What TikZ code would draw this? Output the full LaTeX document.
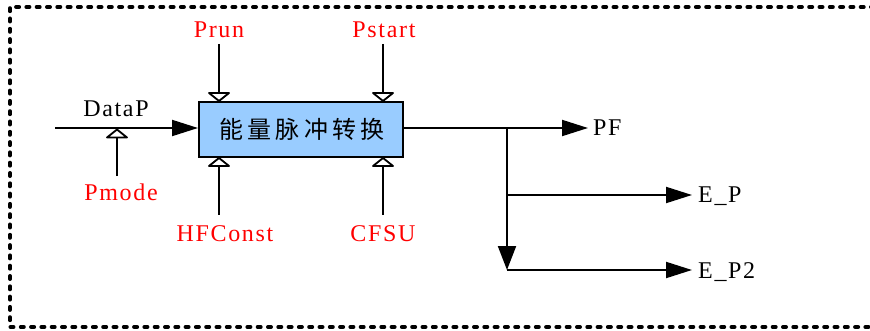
\documentclass[tikz,border=0pt]{standalone}
\usepackage{fontspec}
\setmainfont[LetterSpace=7]{Liberation Serif}
\newfontfamily\cjk[LetterSpace=17]{Noto Sans CJK SC}
\usetikzlibrary{arrows.meta}

\definecolor{boxblue}{RGB}{153,204,255}

% hollow flat arrowhead: tip at #1, base 8pt away in direction #2 (+1 below, -1 above)
\newcommand\hollowtip[2]{%
  \draw[line width=1.8pt,fill=white,line join=round]
    (#1) -- ++(-10,#2*8) -- ++(20,0) -- cycle;}

\begin{document}
\begin{tikzpicture}[x=1pt,y=-1pt,
  wire/.style={line width=2pt},
  solidtip/.style={wire,-{Triangle[length=26pt,width=16pt]}},
  sig/.style={font=\fontsize{24}{24}\selectfont,inner sep=0pt,anchor=base},
  ctl/.style={sig,text=red},
  outsig/.style={sig,anchor=base west},
  block/.style={draw,line width=2pt,fill=boxblue,minimum width=204pt,
    minimum height=55pt,inner sep=0pt,font=\cjk\fontsize{24}{24}\selectfont},
  frame/.style={line width=4pt,line cap=round,dash pattern=on 3pt off 7.3pt}]

\useasboundingbox (0,0) rectangle (870,331);

% dashed enclosure (right side runs past the page edge)
\draw[frame] (874,7) -- (10,7) -- (10,327) -- (874,327);

% central block
\node[block] (conv) at (301,129.5) {\hspace*{2pt}能量脉冲转换};

% signal labels
\node[sig] (datap) at (116,117) {DataP};
\node[ctl] (pmode) at (121,201) {Pmode};
\node[ctl] (prun) at (219,38) {Prun};
\node[ctl] (pstart) at (384,38) {Pstart};
\node[ctl] (hfc) at (225,241) {HFConst};
\node[ctl] (cfsu) at (383,241) {CFSU};
\node[outsig] (pf) at (593,136) {PF};
\node[outsig] (ep) at (698,203) {E\_P};
\node[outsig] (ep2) at (698,278) {E\_P2};

% wiring points
\coordinate (in) at (55,128);
\coordinate (pmodeTap) at (117,129.5);
\coordinate (prunTap) at (conv.north -| 219,0);
\coordinate (pstartTap) at (conv.north -| 383,0);
\coordinate (hfcTap) at (conv.south -| 219,0);
\coordinate (cfsuTap) at (conv.south -| 383,0);
\coordinate (split) at (507,128);
\coordinate (epTap) at (507,195);
\coordinate (ep2Tap) at (507,270);

% main input
\draw[solidtip] (in) -- (conv.west |- in);
\draw[wire] (pmode.north -| pmodeTap) ++(0,-8) -- (pmodeTap);
\hollowtip{pmodeTap}{1}

% control inputs on top
\draw[wire] (prun.base -| prunTap) ++(0,6) -- (prunTap);
\draw[wire] (pstart.base -| pstartTap) ++(0,6) -- (pstartTap);
\hollowtip{prunTap}{-1}
\hollowtip{pstartTap}{-1}

% control inputs below
\draw[wire] (hfc.north -| hfcTap) ++(0,-10) -- (hfcTap);
\draw[wire] (cfsu.north -| cfsuTap) ++(0,-10) -- (cfsuTap);
\hollowtip{hfcTap}{1}
\hollowtip{cfsuTap}{1}

% outputs
\draw[solidtip,shorten >=5pt] (conv.east |- split) -- (pf.west |- split);
\draw[wire,-{Triangle[length=24pt,width=18pt]}] (split) -- (ep2Tap);
\draw[solidtip,shorten >=6pt] (epTap) -- (ep.west |- epTap);
\draw[solidtip,shorten >=6pt] (ep2Tap) -- (ep2.west |- ep2Tap);

\end{tikzpicture}
\end{document}
